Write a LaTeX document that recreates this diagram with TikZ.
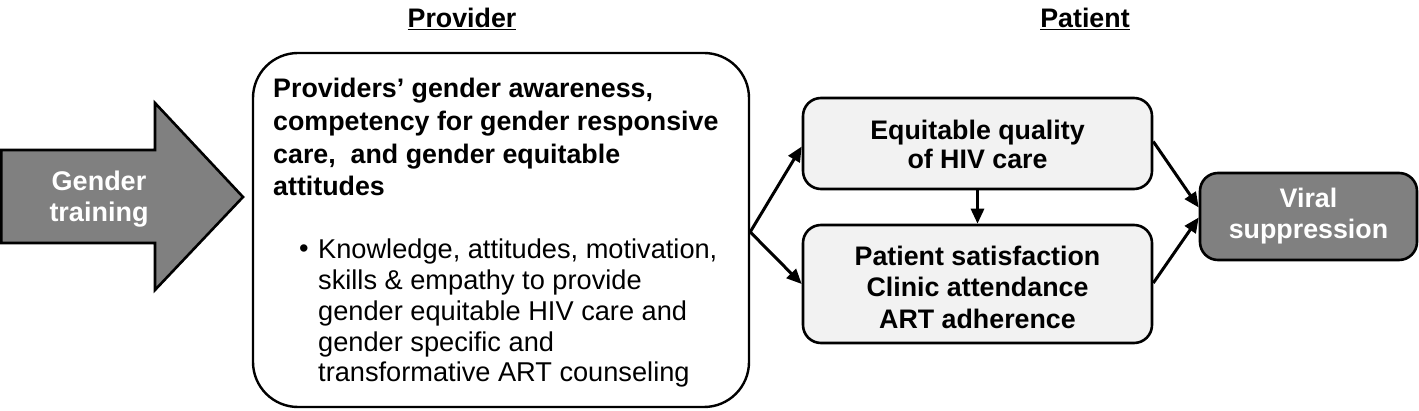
\documentclass[tikz,border=0pt]{standalone}
\usepackage{fontspec}
\setmainfont{Liberation Sans}
\usetikzlibrary{arrows.meta,calc}
\definecolor{lightbox}{HTML}{F2F2F2}
\definecolor{darkbox}{HTML}{808080}
\begin{document}
\begin{tikzpicture}[x=1pt,y=-1pt,
  txt/.style={font=\fontsize{27.2}{30.7}\selectfont},
  btxt/.style={font=\fontsize{26.8}{32}\selectfont\bfseries},
  lbox/.style={draw, line width=2.6pt, fill=lightbox, rounded corners=18pt, inner sep=0pt},
  dbox/.style={draw, line width=2.6pt, fill=darkbox, rounded corners=18pt, inner sep=0pt},
  conn/.style={line width=3pt, -{Triangle[length=15pt,width=13pt]}}
]
\useasboundingbox (0,0) rectangle (1419,411);

% titles
\node[btxt, anchor=base] (tprov) at (462,28) {\underline{Provider}};
\node[btxt, anchor=base] (tpat) at (1085,28) {\underline{Patient}};

% big arrow
\draw[line width=2.6pt, fill=darkbox, line join=miter]
  (1.3,150) -- (155,150) -- (155,103) -- (243,197) -- (155,290) -- (155,243) -- (1.3,243) -- cycle;
\node[text=white, align=center, font=\fontsize{27}{31}\selectfont\bfseries] (gt) at (99,199) {Gender\\training};

% provider box
\node[draw, line width=2.4pt, rounded corners=45pt, minimum width=496pt, minimum height=354pt, inner sep=0pt] (prov) at (501,230) {};
\node[anchor=north west, align=left, inner sep=0pt, font=\fontsize{26.8}{32.7}\selectfont\bfseries] (ptxt) at (273,78)
  {Providers’ gender awareness,\\competency for gender responsive\\care,\ \ and gender equitable\\attitudes};
\node[txt, inner sep=0pt, anchor=base] (bul) at (304,258) {\textbullet};
\node[txt, anchor=north west, align=left, inner sep=0pt] (btext) at (318,239)
  {Knowledge, attitudes, motivation,\\skills \& empathy to provide\\gender equitable HIV care and\\gender specific and\\transformative ART counseling};

% patient boxes
\node[lbox, minimum width=349pt, minimum height=91pt] (eq) at (977.5,143.5) {};
\node[btxt, align=center, font=\fontsize{26.8}{29}\selectfont\bfseries] (eqt) at ($(eq.center)+(0,1)$) {Equitable quality\\of HIV care};
\node[lbox, minimum width=349pt, minimum height=118pt] (pat) at (977.5,284) {};
\node[btxt, align=center, font=\fontsize{26.8}{31.5}\selectfont\bfseries] (patt) at ($(pat.center)+(0,3)$) {Patient satisfaction\\Clinic attendance\\ART adherence};
\node[dbox, minimum width=217pt, minimum height=87pt] (vir) at (1308.5,216.5) {};
\node[text=white, align=center, font=\fontsize{26.8}{31}\selectfont\bfseries] (virt) at (vir.center) {Viral\\suppression};

% connectors
\coordinate (fork) at ($(prov.east)+(0,2)$);
\draw[conn] (fork) -- ($(eq.west)+(0,3)$);
\draw[conn] (fork) -- (pat.west);
\draw[conn] (eq.south) -- (pat.north);
\draw[conn] ($(eq.east)+(0,-2)$) -- ($(vir.west)+(0,-9)$);
\draw[conn] ($(pat.east)+(0,-1)$) -- ($(vir.west)+(0,1)$);
\end{tikzpicture}
\end{document}
